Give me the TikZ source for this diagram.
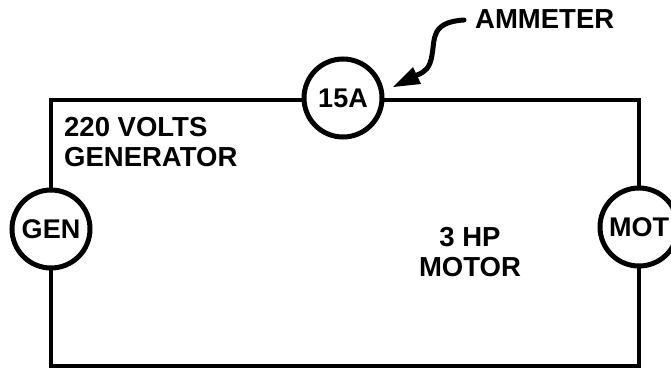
\documentclass[tikz,border=0pt]{standalone}
\usepackage{fontspec}
\setmainfont{Liberation Sans}
\begin{document}
\begin{tikzpicture}[x=1pt,y=-1pt,
  wire/.style={line width=4pt,line join=miter},
  meter/.style={circle,draw,line width=5pt,fill=white,inner sep=0pt,minimum size=78pt,text width=70pt,align=center,font=\fontsize{27}{27}\selectfont\bfseries},
  lbl/.style={inner sep=0pt,align=center,font=\fontsize{27.5}{30}\selectfont\bfseries}]
\useasboundingbox (0,0) rectangle (671,369);
\fill[white] (0,0) rectangle (671,369);
\coordinate (tl) at (51,100);
\coordinate (tr) at (639,100);
\coordinate (br) at (639,366);
\coordinate (bl) at (51,366);
\draw[wire] (tl) -- (tr) -- (br) -- (bl) -- cycle;
\node[meter] (amp) at (343,98) {15A};
\node[meter] (gen) at (51,229) {GEN};
\node[meter] (mot) at (639,227) {MOT};
\node[lbl,anchor=west] (ammeter) at (475,19) {AMMETER};
\node[lbl,anchor=west,align=left] (genlabel) at (64,142) {220 VOLTS\\GENERATOR};
\node[lbl] (motlabel) at (470,252) {3 HP\\MOTOR};
\coordinate (tailstart) at (464,20);
\coordinate (tailend) at (417,75);
\coordinate (tip) at (393,87);
\draw[line width=5pt,line cap=round] (tailstart) .. controls (430,22) and (435,40) .. (432,55) .. controls (430,68) and (425,72) .. (tailend);
\fill (tip) -- (413,67) -- (421,84) -- cycle;
\end{tikzpicture}
\end{document}
